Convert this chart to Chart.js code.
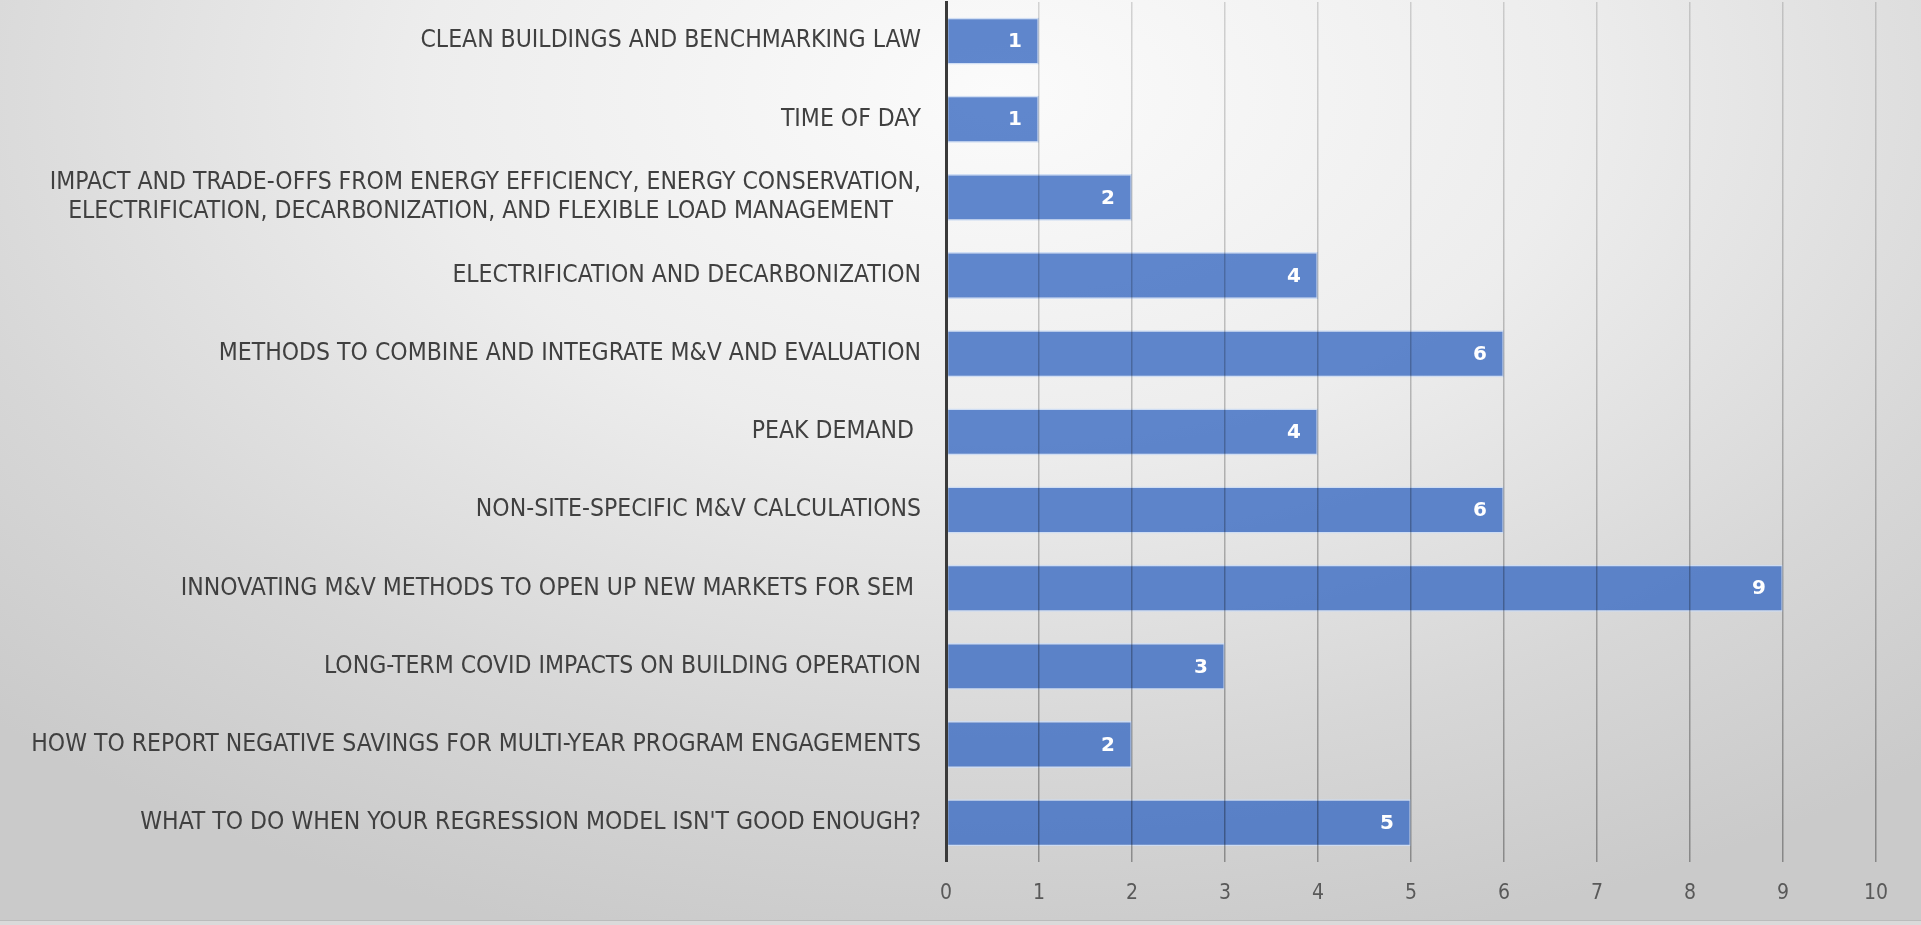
<!DOCTYPE html>
<html>
<head>
<meta charset="utf-8">
<script src="https://cdn.jsdelivr.net/npm/chart.js@4/dist/chart.umd.min.js"></script>
<style>
  html, body { margin: 0; padding: 0; }
  body {
    width: 1921px; height: 925px; overflow: hidden;
    background: radial-gradient(ellipse 75% 95% at 52% 10%, #fbfbfb 0%, #ededed 40%, #d7d7d7 75%, #cacaca 100%);
  }
  #wrap { position: relative; width: 1921px; height: 925px; }
  #edge { position: absolute; left: 0; top: 920px; width: 1921px; height: 5px;
          border-top: 1px solid #bcbcbc; background: #dadada; box-sizing: border-box; }
</style>
</head>
<body>
<div id="wrap"><canvas id="Chartsessions" width="1921" height="925"></canvas><div id="edge"></div></div>
<script>
var topics = [
    'CLEAN BUILDINGS AND BENCHMARKING LAW',
    'TIME OF DAY',
    ['IMPACT AND TRADE-OFFS FROM ENERGY EFFICIENCY, ENERGY CONSERVATION,',
     'ELECTRIFICATION, DECARBONIZATION, AND FLEXIBLE LOAD MANAGEMENT    '],
    'ELECTRIFICATION AND DECARBONIZATION',
    'METHODS TO COMBINE AND INTEGRATE M&V AND EVALUATION',
    'PEAK DEMAND ',
    'NON-SITE-SPECIFIC M&V CALCULATIONS',
    'INNOVATING M&V METHODS TO OPEN UP NEW MARKETS FOR SEM ',
    'LONG-TERM COVID IMPACTS ON BUILDING OPERATION',
    'HOW TO REPORT NEGATIVE SAVINGS FOR MULTI-YEAR PROGRAM ENGAGEMENTS',
    "WHAT TO DO WHEN YOUR REGRESSION MODEL ISN'T GOOD ENOUGH?"
];
var votes = [1, 1, 2, 4, 6, 4, 6, 9, 3, 2, 5];
var xTicks = [0, 1, 2, 3, 4, 5, 6, 7, 8, 9, 10];

var barColor = 'rgba(68, 114, 196, 0.85)';

// white value inside the end of each bar
var barValues = {
    id: 'barValues',
    afterDatasetsDraw: function (chart) {
        var ctx = chart.ctx;
        var meta = chart.getDatasetMeta(0);
        ctx.save();
        ctx.font = 'bold 20px "DejaVu Sans"';
        ctx.fillStyle = '#ffffff';
        ctx.textAlign = 'right';
        ctx.textBaseline = 'middle';
        meta.data.forEach(function (bar, i) {
            ctx.fillText(String(votes[i]), bar.x - 17, bar.y + 1);
        });
        ctx.restore();
    }
};

// grid lines get darker towards the bottom, like the picture
function gridColor(context) {
    var chart = context.chart;
    var area = chart.chartArea;
    if (!area) return 'rgba(0,0,0,0.25)';
    var g = chart.ctx.createLinearGradient(0, area.top, 0, area.bottom);
    g.addColorStop(0, 'rgba(0,0,0,0.15)');
    g.addColorStop(1, 'rgba(0,0,0,0.33)');
    return g;
}

var canvas = document.getElementById('Chartsessions');
var ctx = canvas.getContext('2d');
var myChart = new Chart(ctx, {
    type: 'bar',
    data: {
        labels: topics,
        datasets: [{
            data: votes,
            backgroundColor: barColor,
            borderColor: 'rgba(205, 220, 243, 0.95)',
            borderWidth: 1.5,
            borderSkipped: false,
            categoryPercentage: 1,
            barPercentage: 0.6
        }]
    },
    options: {
        indexAxis: 'y',
        responsive: false,
        animation: false,
        layout: { padding: { top: 2, right: 45, bottom: 0, left: 0 } },
        plugins: {
            legend: { display: false },
            tooltip: { enabled: false }
        },
        scales: {
            x: {
                min: 0,
                max: 10,
                afterBuildTicks: function (scale) {
                    scale.ticks = xTicks.map(function (v) { return { value: v }; });
                },
                grid: {
                    color: gridColor,
                    lineWidth: 1.5,
                    drawTicks: false,
                    z: 1
                },
                border: { display: false },
                ticks: {
                    color: '#595959',
                    font: { family: '"DejaVu Sans Condensed", "DejaVu Sans"', size: 21 },
                    padding: 19
                }
            },
            y: {
                afterFit: function (scale) {
                    scale.width = 946;
                    scale.paddingTop = 0;
                    scale.paddingBottom = 0;
                },
                grid: { display: false, drawTicks: false },
                border: { display: true, color: '#3a3a3a', width: 3, z: 2 },
                ticks: {
                    color: '#404040',
                    font: { family: '"DejaVu Sans Condensed", "DejaVu Sans"', size: 24.5, lineHeight: 1.2 },
                    padding: 25,
                    autoSkip: false
                }
            }
        }
    },
    plugins: [barValues]
});
</script>
</body>
</html>
